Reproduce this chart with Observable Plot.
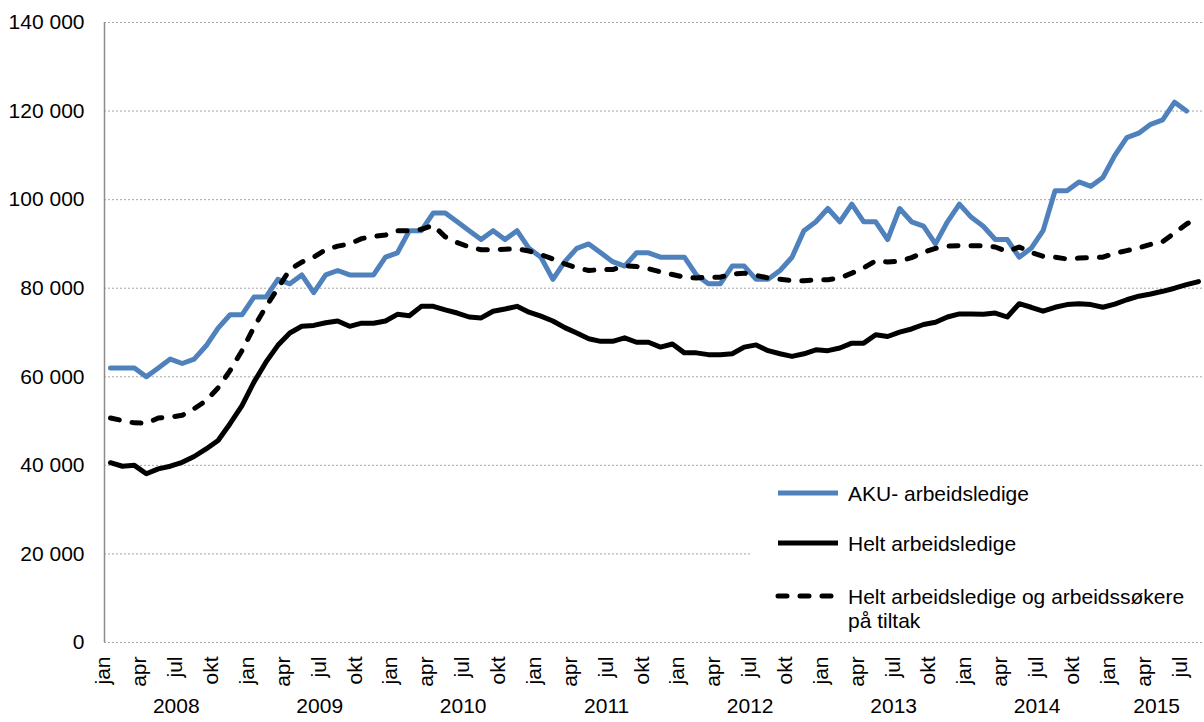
<!DOCTYPE html>
<html><head><meta charset="utf-8">
<script src="https://cdn.jsdelivr.net/npm/d3@7"></script>
<script src="https://cdn.jsdelivr.net/npm/@observablehq/plot@0.6"></script>
<style>
body{margin:0;background:#fff;font-family:"Liberation Sans",Arial,sans-serif;}
#chart{position:relative;width:1204px;height:722px;}
#legend{position:absolute;left:752px;top:468px;width:452px;height:170px;background:#fff;}
#legend text{font-family:"Liberation Sans",Arial,sans-serif;font-size:21px;fill:#000;}
</style></head><body><div id="chart"></div>
<script>
// Months jan 2008 .. aug 2015
const monthNames = ["jan","feb","mar","apr","mai","jun","jul","aug","sep","okt","nov","des"];
const startYear = 2008;
const nMonths = 92;
const yTicks = [0, 20000, 40000, 60000, 80000, 100000, 120000, 140000];

const seriesNames = ["AKU- arbeidsledige", "Helt arbeidsledige", "Helt arbeidsledige og arbeidssøkere\npå tiltak"];

// AKU- arbeidsledige (thousands), jan 2008 .. jul 2015
const aku = [62,62,62,60,62,64,63,64,67,71,74,74,
  78,78,82,81,83,79,83,84,83,83,83,87,
  88,93,93,97,97,95,93,91,93,91,93,89,
  87,82,86,89,90,88,86,85,88,88,87,87,
  87,83,81,81,85,85,82,82,84,87,93,95,
  98,95,99,95,95,91,98,95,94,90,95,99,
  96,94,91,91,87,89,93,102,102,104,103,105,
  110,114,115,117,118,122,120];

// Helt arbeidsledige (thousands), jan 2008 .. aug 2015
const helt = [40.6,39.8,40.0,38.1,39.2,39.8,40.7,42.0,43.7,45.6,49.4,53.5,
  58.8,63.3,67.1,69.9,71.4,71.6,72.2,72.6,71.4,72.1,72.1,72.6,
  74.1,73.8,75.9,75.9,75.1,74.4,73.5,73.3,74.8,75.3,75.9,74.6,
  73.7,72.6,71.1,69.9,68.6,68.0,68.0,68.8,67.8,67.8,66.7,67.4,
  65.4,65.4,65.0,65.0,65.2,66.7,67.2,65.9,65.2,64.6,65.2,66.1,
  65.9,66.5,67.6,67.6,69.5,69.1,70.1,70.8,71.8,72.3,73.5,74.2,
  74.2,74.1,74.4,73.5,76.5,75.7,74.8,75.7,76.3,76.5,76.3,75.7,
  76.4,77.4,78.2,78.7,79.3,80.0,80.8,81.5];

// Helt arbeidsledige og arbeidssøkere på tiltak (thousands), jan 2008 .. aug 2015
const heltTiltak = [50.7,50.1,49.6,49.5,50.7,50.9,51.3,52.8,54.6,57.5,61.4,65.9,
  71.2,75.8,80.0,84.2,85.9,87.0,88.7,89.5,90.0,91.2,91.7,92.0,
  93.0,93.0,93.3,94.2,91.6,90.3,89.3,88.7,88.7,88.8,88.9,88.4,
  87.6,86.6,85.5,84.6,84.0,84.2,84.2,85.1,84.9,84.4,83.7,83.1,
  82.5,82.3,82.5,82.5,83.2,83.4,82.9,82.3,82.0,81.7,81.7,81.9,
  81.9,82.3,83.4,84.6,86.2,85.9,86.1,86.9,88.1,89.0,89.5,89.6,
  89.6,89.6,89.3,88.3,89.3,88.1,87.2,87.0,86.6,86.8,86.9,87.0,
  87.9,88.5,89.1,89.9,90.5,92.5,94.5,96.0];

const colors = ["#4F81BD", "#000000", "#000000"];

const months = d3.range(nMonths).map(i => ({i, year: startYear + Math.floor(i / 12), m: i % 12, label: monthNames[i % 12]}));
const quarterLabels = months.filter(d => d.m % 3 === 0);
const yearGroups = d3.groups(months, d => d.year).map(([year, ms]) => ({year: String(year), center: d3.mean(ms, d => d.i)}));

const toRows = arr => arr.map((v, i) => ({i, v: v * 1000}));
const fmt = d => d3.format(",")(d).replace(/,/g, " ");
const FS = 21;

const plot = Plot.plot({
  width: 1204, height: 722,
  marginLeft: 104, marginRight: 0, marginTop: 22, marginBottom: 80,
  style: {fontFamily: "Liberation Sans, Arial, sans-serif", fontSize: FS + "px", color: "#000", background: "#fff", overflow: "visible"},
  x: {type: "linear", domain: [-0.5, nMonths - 0.5], axis: null},
  y: {domain: [0, 140000], axis: null},
  marks: [
    Plot.ruleY(yTicks, {stroke: "#a6a6a6", strokeWidth: 1, strokeDasharray: "2,2"}),
    Plot.ruleX([-0.5], {stroke: "#8c8c8c", strokeWidth: 1.5}),
    Plot.axisY(yTicks, {tickSize: 0, tickPadding: 20, tickFormat: fmt, fontSize: FS, label: null, fill: "#000"}),
    Plot.text(quarterLabels, {x: "i", text: "label", frameAnchor: "bottom", rotate: -90, textAnchor: "end", dy: 14, fontSize: FS, fill: "#000"}),
    Plot.text(yearGroups, {x: "center", text: "year", frameAnchor: "bottom", dy: 70, fontSize: FS, fill: "#000"}),
    Plot.line(toRows(aku), {x: "i", y: "v", stroke: colors[0], strokeWidth: 5, strokeLinejoin: "round"}),
    Plot.line(toRows(helt), {x: "i", y: "v", stroke: colors[1], strokeWidth: 5, strokeLinejoin: "round"}),
    Plot.line(toRows(heltTiltak), {x: "i", y: "v", stroke: colors[2], strokeWidth: 5, strokeLinejoin: "round", strokeLinecap: "round", strokeDasharray: "9,13"})
  ]
});

const chart = document.getElementById("chart");
chart.appendChild(plot);

// Legend (inside plot area, lower right)
const legend = document.createElement("div");
legend.id = "legend";
const ns = "http://www.w3.org/2000/svg";
const svg = document.createElementNS(ns, "svg");
svg.setAttribute("width", 452); svg.setAttribute("height", 170);
const rowsY = [25, 75, 128];
const dashes = [null, null, "9,13"];
seriesNames.forEach((name, k) => {
  const line = document.createElementNS(ns, "line");
  line.setAttribute("x1", 26); line.setAttribute("x2", 86);
  line.setAttribute("y1", rowsY[k]); line.setAttribute("y2", rowsY[k]);
  line.setAttribute("stroke", colors[k]); line.setAttribute("stroke-width", 5);
  if (dashes[k]) { line.setAttribute("stroke-dasharray", dashes[k]); line.setAttribute("stroke-linecap", "round"); }
  svg.appendChild(line);
  name.split("\n").forEach((part, j) => {
    const t = document.createElementNS(ns, "text");
    t.setAttribute("x", 96); t.setAttribute("y", rowsY[k] + j * 24);
    t.setAttribute("dominant-baseline", "central");
    t.textContent = part;
    svg.appendChild(t);
  });
});
legend.appendChild(svg);
chart.appendChild(legend);
</script>
</body></html>
